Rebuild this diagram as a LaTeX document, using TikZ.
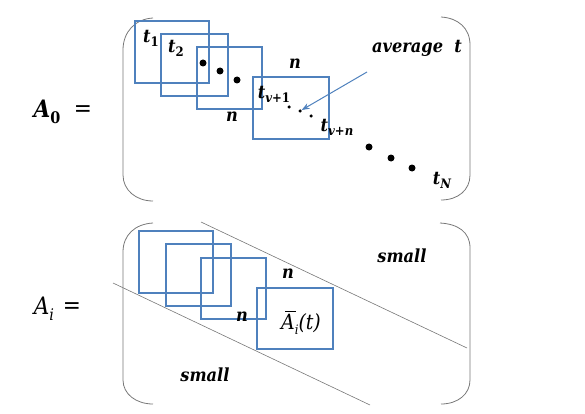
\documentclass[tikz,border=0pt]{standalone}
\usepackage{fontspec}
\usetikzlibrary{arrows.meta}
\newfontfamily\cam[FakeStretch=0.9]{DejaVu Serif}
\definecolor{boxblue}{RGB}{79,129,189}
\definecolor{lgray}{RGB}{120,120,120}
\newcommand\bi[1]{{\bfseries\itshape #1}}
\newcommand\sbs[1]{\raisebox{-0.45ex}{\fontsize{13}{14}\selectfont #1}}
\newcommand\sbsbig[1]{\raisebox{-0.45ex}{\fontsize{16}{17}\selectfont #1}}
\tikzset{
  bx/.style={draw=boxblue, line width=1.3pt},
  brk/.style={draw=lgray, line width=0.8pt},
  diag/.style={draw=lgray, line width=0.6pt},
  lbl/.style={inner sep=0pt, font=\cam\fontsize{18}{21}\selectfont},
  biglbl/.style={inner sep=0pt, font=\cam\fontsize{24}{28}\selectfont},
  abarlbl/.style={inner sep=0pt, font=\cam\fontsize{21}{24}\selectfont},
  bigdot/.style={circle, fill=black, inner sep=0pt, minimum size=7pt},
  smdot/.style={circle, fill=black, inner sep=0pt, minimum size=3.5pt},
  arr/.style={draw=boxblue, line width=1pt, -{Stealth[length=8pt,width=6pt]}}
}
\begin{document}
\begin{tikzpicture}[x=1pt,y=-1pt]
\useasboundingbox (0,0) rectangle (585,414);
% ---------- top matrix brackets
\draw[brk] (153,18) .. controls (135,19) and (123,32) .. (123,50) -- (123,175) .. controls (123,190) and (136,201) .. (153,201);
\draw[brk] (441,17) .. controls (458,18) and (470,28) .. (470,45) -- (470,175) .. controls (470,190) and (458,200) .. (441,200);
% boxes
\draw[bx] (135,21) rectangle (209,83);
\draw[bx] (161,34) rectangle (228,96);
\draw[bx] (197,47) rectangle (262,109);
\draw[bx] (253,77) rectangle (329,139);
% labels
\node[biglbl] (A0) at (47,112) {\bi{A}\sbsbig{\bfseries 0}};
\node[biglbl] (eq0) at (83,111) {=};
\node[lbl] (t1) at (151,38) {\bi{t}\sbs{\bfseries 1}};
\node[lbl] (t2) at (176,48) {\bi{t}\sbs{\bfseries 2}};
\node[bigdot] (d1) at (203,63) {};
\node[bigdot] (d2) at (220,71) {};
\node[bigdot] (d3) at (237,80) {};
\node[lbl] (n1) at (232,117) {\bi{n}};
\node[lbl] (n2) at (295,64) {\bi{n}};
\node[lbl] (tv1) at (274,94) {\bi{t}\sbs{\bi{v}\bfseries +1}};
\node[smdot] (s1) at (289,107) {};
\node[smdot] (s2) at (300,111) {};
\node[smdot] (s3) at (311,116) {};
\node[lbl] (tvn) at (337,127) {\bi{t}\sbs{\bi{v}\bfseries +\bi{n}}};
\node[bigdot] (e1) at (369,147) {};
\node[bigdot] (e2) at (391,158) {};
\node[bigdot] (e3) at (412,168) {};
\node[lbl] (tN) at (442,180) {\bi{t}\sbs{\bi{N}}};
\node[lbl] (avg) at (417,48) {\bi{average\ \ t}};
\coordinate (arrs) at (367,72);
\draw[arr] (arrs) -- (s2);
% ---------- bottom matrix brackets
\draw[brk] (153,223) .. controls (135,224) and (123,235) .. (123,252) -- (123,380) .. controls (123,394) and (136,404) .. (153,404);
\draw[brk] (440,223) .. controls (458,224) and (470,232) .. (470,248) -- (470,380) .. controls (470,394) and (458,404) .. (441,404);
% diagonal lines
\coordinate (u1) at (201,222);
\coordinate (u2) at (467,348);
\coordinate (l1) at (113,283);
\coordinate (l2) at (370,405);
\draw[diag] (u1) -- (u2);
\draw[diag] (l1) -- (l2);
% boxes
\draw[bx] (139,231) rectangle (213,293);
\draw[bx] (166,244) rectangle (231,306);
\draw[bx] (201,258) rectangle (266,319);
\draw[bx] (257,288) rectangle (333,349);
% labels
\node[biglbl] (Ai) at (44,309) {\itshape A\sbsbig{\itshape i}};
\node[biglbl] (eqi) at (72,308) {=};
\node[lbl] (n3) at (288,274) {\bi{n}};
\node[lbl] (n4) at (242,317) {\bi{n}};
\node[abarlbl] (Abar) at (301,323) {\itshape\makebox[0pt][l]{\raisebox{0.83em}{\hspace{0.2em}\rule{0.5em}{0.9pt}}}A\sbs{\itshape i}(t)};
\node[lbl] (sm1) at (205,375) {\bi{small}};
\node[lbl] (sm2) at (402,256) {\bi{small}};
\end{tikzpicture}
\end{document}
